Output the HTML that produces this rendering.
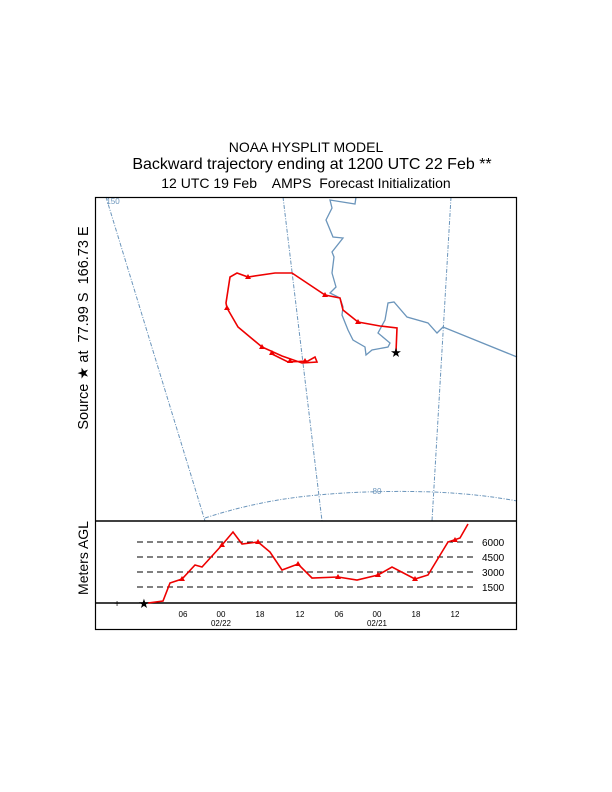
<!DOCTYPE html>
<html><head><style>body{margin:0;background:#fff}svg{display:block}</style></head><body>
<svg width="612" height="792" viewBox="0 0 612 792" font-family="Liberation Sans, sans-serif">
<rect width="612" height="792" fill="#fff"/>
<text x="306" y="152" font-size="14" text-anchor="middle">NOAA HYSPLIT MODEL</text>
<text x="312" y="169" font-size="16" text-anchor="middle">Backward trajectory ending at 1200 UTC 22 Feb **</text>
<text x="306" y="188" font-size="14" text-anchor="middle" xml:space="preserve">12 UTC 19 Feb    AMPS  Forecast Initialization</text>
<text transform="translate(88,328) rotate(-90)" font-size="14.5" text-anchor="middle" xml:space="preserve">Source ★ at  77.99 S  166.73 E</text>
<text transform="translate(88,558) rotate(-90)" font-size="14" text-anchor="middle">Meters AGL</text>
<g fill="none" stroke="#6b95bb" stroke-width="1" stroke-dasharray="4,1.5,1,1.5">
<path d="M106 197 L205 521"/>
<path d="M283 197 L322 521"/>
<path d="M451 197 L432 521"/>
<path d="M205 518 Q260 500 318 495 Q372 490 433 492 Q480 494 517 501"/>
</g>
<text x="113" y="204" font-size="8" fill="#6b95bb" text-anchor="middle">150</text>
<text x="377" y="494" font-size="8" fill="#6b95bb" text-anchor="middle">80</text>
<path d="M356 197 L355 204 L330 200 L332 208 L326 220 L333 237 L343 238 L332 252 L334 257 L332 273 L336 287 L330 293 L340 298 L343 307 L342 315 L348 330 L353 340 L365 347 L366 355 L372 350 L388 347 L390 343 L378 333 L385 320 L388 303 L394 302 L407 317 L428 323 L437 333 L443 327 L517 357" fill="none" stroke="#6b95bb" stroke-width="1.3"/>
<path d="M396 352 L397 328 L380 326 L358 322 L343 310 L340 298 L325 295 L292 273 L275 273 L248 277 L237 273 L230 277 L228 290 L226 303 L227 308 L238 327 L262 347 L282 356 L302 363 L317 362 L315 357 L308 361 L288 362 L270 353" fill="none" stroke="#e00" stroke-width="1.6"/>
<g fill="#e00">
<path d="M358 319 l3 5 h-6z"/><path d="M325 292 l3 5 h-6z"/><path d="M248 274 l3 5 h-6z"/><path d="M227 305 l3 5 h-6z"/><path d="M262 344 l3 5 h-6z"/><path d="M272 350 l3 5 h-6z"/><path d="M290 358 l3 5 h-6z"/><path d="M305 358 l3 5 h-6z"/>
</g>
<text x="396" y="357" font-size="13" text-anchor="middle">★</text>
<rect x="95.5" y="197.5" width="421" height="432" fill="none" stroke="#000" stroke-width="1.2"/>
<line x1="95" y1="521" x2="517" y2="521" stroke="#000" stroke-width="1.5"/>
<line x1="95" y1="603" x2="517" y2="603" stroke="#000" stroke-width="1.5"/>
<g stroke="#000" stroke-dasharray="6,4" stroke-width="1">
<line x1="137" y1="542" x2="475" y2="542"/><line x1="137" y1="557" x2="475" y2="557"/><line x1="137" y1="572" x2="475" y2="572"/><line x1="137" y1="587" x2="475" y2="587"/>
</g>
<g font-size="10" text-anchor="start">
<text x="482" y="546">6000</text><text x="482" y="561">4500</text><text x="482" y="576">3000</text><text x="482" y="591">1500</text>
</g>
<path d="M148 603 L163 601 L170 583 L182 579 L195 565 L202 567 L222 545 L233 532 L242 544 L258 542 L270 552 L282 570 L298 564 L312 578 L338 577 L357 580 L378 575 L392 567 L415 579 L428 575 L448 542 L460 538 L468 524" fill="none" stroke="#e00" stroke-width="1.6"/>
<g fill="#e00">
<path d="M182 576 l3 5 h-6z"/><path d="M222 542 l3 5 h-6z"/><path d="M258 539 l3 5 h-6z"/><path d="M298 561 l3 5 h-6z"/><path d="M338 574 l3 5 h-6z"/><path d="M378 572 l3 5 h-6z"/><path d="M415 576 l3 5 h-6z"/><path d="M455 537 l3 5 h-6z"/>
</g>
<text x="144" y="608" font-size="13" text-anchor="middle">★</text>
<text x="117" y="607" font-size="10" text-anchor="middle">+</text>
<g font-size="8" text-anchor="middle">
<text x="183" y="617">06</text><text x="221" y="617">00</text><text x="260" y="617">18</text><text x="300" y="617">12</text><text x="339" y="617">06</text><text x="377" y="617">00</text><text x="416" y="617">18</text><text x="455" y="617">12</text>
<text x="221" y="626">02/22</text><text x="377" y="626">02/21</text>
</g>
</svg>
</body></html>
